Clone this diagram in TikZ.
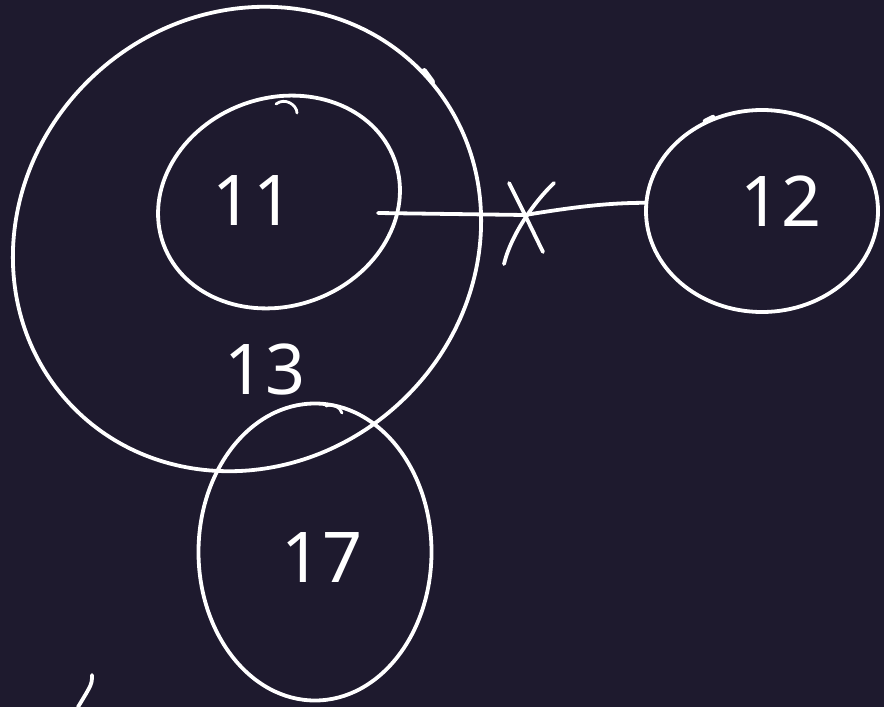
\documentclass[tikz,border=0pt]{standalone}
\usepackage{fontspec}
\setmainfont{Noto Sans}
\usepackage{tikz}
\usetikzlibrary{calc,shapes.geometric}
\definecolor{boardbg}{RGB}{30,26,46}
\tikzset{
	ring/.style={ellipse,draw=white,line width=3.8pt,inner sep=0pt},
	wire/.style={draw=white,line width=3.8pt,line cap=round},
	hand/.style={text=white,font=\fontsize{70}{70}\selectfont}
}

\begin{document}
\begin{tikzpicture}[x=1pt,y=-1pt]
	\fill[boardbg] (0,0) rectangle (884,707);
	\useasboundingbox (0,0) rectangle (884,707);

	% sets
	\node[ring,rotate=42,minimum width=484pt,minimum height=448pt] (n13) at (247,239) {};
	\node[ring,rotate=20,minimum width=246pt,minimum height=208pt] (n11) at (279,202) {};
	\node[ring,minimum width=232pt,minimum height=202pt] (n12) at (762,211) {};
	\node[ring,minimum width=233pt,minimum height=297pt] (n17) at (315,552) {};

	% labels
	\node[hand] (l11) at (253,201) {11};
	\node[hand] (l12) at (781,201) {12};
	\node[hand] (l13) at (265,370) {13};
	\node[hand] (l17) at (322,558) {17};

	% pen overlaps
	\draw[wire,line width=2.8pt] (276,104) .. controls (285,97) and (297,105) .. (297,113);
	\draw[wire,line width=5.4pt] ($(n13.east)+(-4,-5)$) -- ($(n13.east)+(4,6)$);
	\draw[wire,line width=4.6pt] ($(n12.120)+(-4,2)$) -- ($(n12.120)+(4,-2)$);
	\draw[wire,line width=2.8pt] (326,406) .. controls (333,403) and (340,407) .. (342,413);

	% edge, struck out
	\coordinate (c11) at (378,213);
	\coordinate (cross) at (525,215);
	\draw[wire] (c11) -- (cross) .. controls (580,206) and (610,203) .. (n12.176);
	\draw[wire] (509,183) -- (cross) -- (543,252);
	\draw[wire] (554,183) .. controls (534,202) and (511,235) .. (504,264);

	% stray stroke
	\draw[wire] (92,675) .. controls (92,684) .. (78,707);
\end{tikzpicture}
\end{document}
